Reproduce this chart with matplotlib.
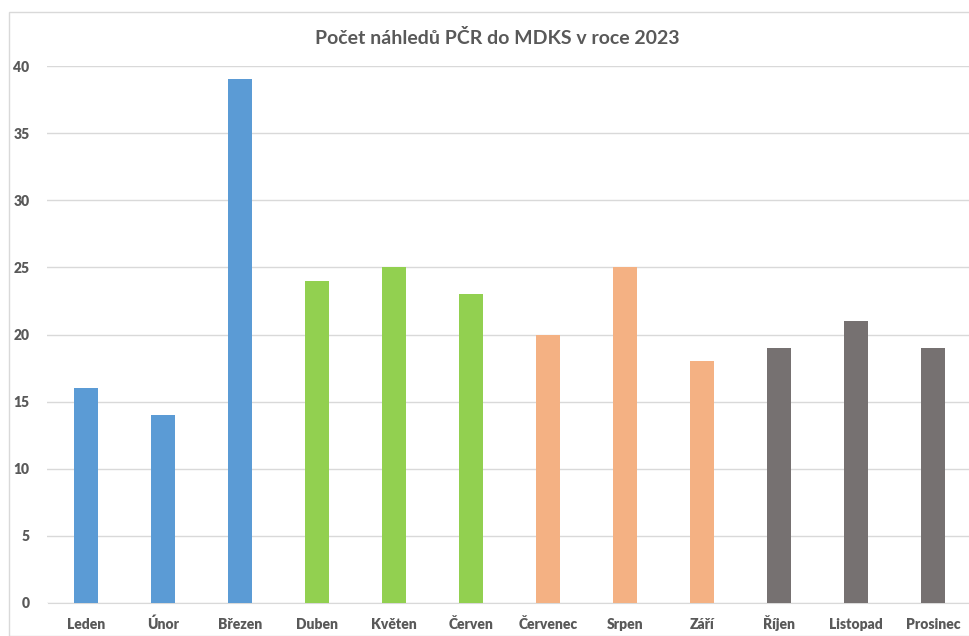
import matplotlib.pyplot as plt
from matplotlib.patches import Rectangle

# data
months = ['Leden', 'Únor', 'Březen', 'Duben', 'Květen', 'Červen',
          'Červenec', 'Srpen', 'Září', 'Říjen', 'Listopad', 'Prosinec']
counts = [16, 14, 39, 24, 25, 23, 20, 25, 18, 19, 21, 19]
season_colors = ['#5B9BD5'] * 3 + ['#92D050'] * 3 + ['#F4B183'] * 3 + ['#767171'] * 3
yticks = [0, 5, 10, 15, 20, 25, 30, 35, 40]

plt.rcParams['font.family'] = ['Lato', 'DejaVu Sans']

fig = plt.figure(figsize=(9.7, 6.36), dpi=100)
fig.patches.append(Rectangle((9 / 970, 0), 1, 1 - 12 / 636, transform=fig.transFigure,
                             fill=False, edgecolor='#d9d9d9', linewidth=1))

ax = fig.add_axes([47.5 / 970, 1 - 603 / 636, 1 - 47.5 / 970 + 0.0015, (603 - 66) / 636])
x = range(len(months))
ax.bar(x, counts, width=0.32, color=season_colors, zorder=3)

ax.set_xlim(-0.5, len(months) - 0.5)
ax.set_ylim(0, 40)
ax.set_yticks(yticks)
ax.set_xticks(list(x))
ax.set_xticklabels(months)
ax.grid(axis='y', color='#d9d9d9', linewidth=1, zorder=0)
for s in ['top', 'right', 'left']:
    ax.spines[s].set_visible(False)
ax.spines['bottom'].set_color('#d9d9d9')
ax.tick_params(axis='both', length=0, labelsize=10, labelcolor='#595959')
ax.tick_params(axis='x', pad=19)
ax.tick_params(axis='y', pad=13)
for lbl in ax.get_xticklabels():
    lbl.set_fontweight('heavy')
    lbl.set_verticalalignment('baseline')
for lbl in ax.get_yticklabels():
    lbl.set_fontweight('heavy')

fig.text(497 / 970, 1 - 38 / 636, 'Počet náhledů PČR do MDKS v roce 2023',
         ha='center', va='center', fontsize=14, fontweight='bold', color='#595959')

fig.savefig('out.png', dpi=100)
